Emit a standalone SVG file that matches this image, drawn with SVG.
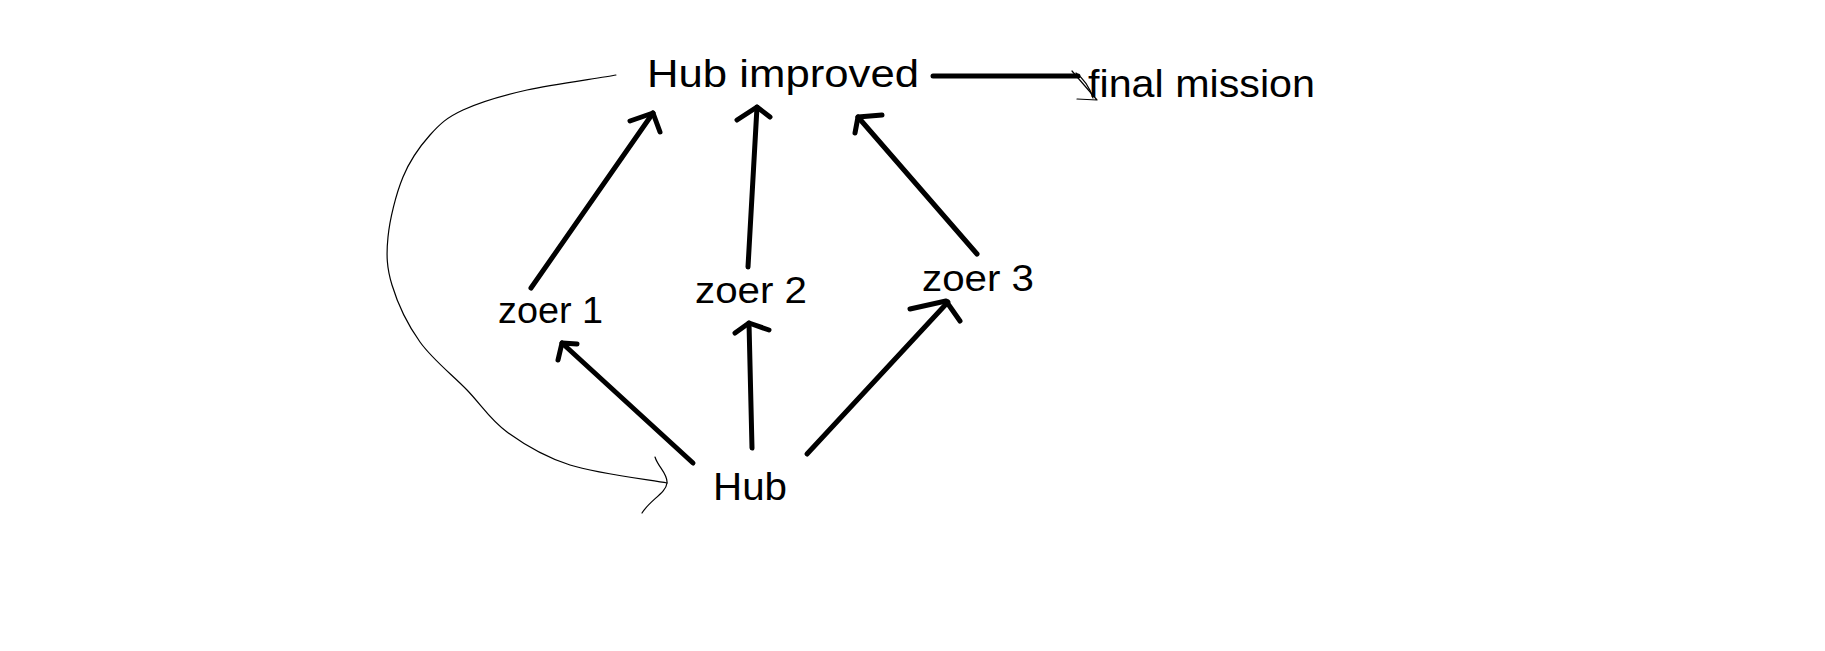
<svg xmlns="http://www.w3.org/2000/svg" width="1825" height="651" viewBox="0 0 1825 651">
<style>
.lbl{font-family:"Liberation Sans",Arial,sans-serif;fill:#000;}
.thick{fill:none;stroke:#000;stroke-width:5;stroke-linecap:round;stroke-linejoin:round;}
.thin{fill:none;stroke:#000;stroke-width:1.2;stroke-linecap:round;stroke-linejoin:round;}
</style>
<rect x="0" y="0" width="1825" height="651" fill="#fff"/>
<g id="connectors">
  <!-- Hub -> zoer 1 -->
  <path class="thick" d="M693,463 L562,343"/>
  <path class="thick" d="M558,360 L562,343 L577,344"/>
  <!-- Hub -> zoer 2 -->
  <path class="thick" d="M752,448 L749,323"/>
  <path class="thick" d="M735,333 L749,323 L769,330"/>
  <!-- Hub -> zoer 3 -->
  <path class="thick" d="M807,454 L948,302"/>
  <path class="thick" d="M910,309 L946,301 L960,321"/>
  <!-- zoer 1 -> Hub improved -->
  <path class="thick" d="M531,288 L653,113"/>
  <path class="thick" d="M630,121 L653,113 L660,132"/>
  <!-- zoer 2 -> Hub improved -->
  <path class="thick" d="M748,267 L757,107"/>
  <path class="thick" d="M737,120 L757,107 L770,117"/>
  <!-- zoer 3 -> Hub improved -->
  <path class="thick" d="M977,254 L858,117"/>
  <path class="thick" d="M855,133 L858,117 L882,115"/>
  <!-- Hub improved -> final mission -->
  <path class="thick" d="M933,76 L1078,76"/>
  <path class="thin" d="M1072,71 L1097,100 L1077,99"/>
  <path class="thin" d="M1076,73 Q1088,82 1093,98"/>
  <!-- Hub improved -> Hub (hand-drawn loop) -->
  <path class="thin" d="M616,75 C601,78 552.5,84.2 527,90 C501.5,95.8 479.2,102.5 463,110 C446.8,117.5 440,123.8 430,135 C420,146.2 410,160 403,177 C396,194 389.8,219 388,237 C386.2,255 386.7,267.5 392,285 C397.3,302.5 407.5,324.5 420,342 C432.5,359.5 452.5,375 467,390 C481.5,405 489.8,419.5 507,432 C524.2,444.5 543.3,456.5 570,465 C596.7,473.5 650.8,480 667,483"/>
  <path class="thin" d="M655,457 C658,467 668,474 667,483 C666,493 650,500 642,513"/>
</g>
<g id="node-hub-improved"><text class="lbl" x="647" y="87" font-size="39" textLength="272" lengthAdjust="spacingAndGlyphs">Hub improved</text></g>
<g id="node-final-mission"><text class="lbl" x="1088" y="97" font-size="38" textLength="227" lengthAdjust="spacingAndGlyphs">final mission</text></g>
<g id="node-zoer1"><text class="lbl" x="498" y="323" font-size="36" textLength="105" lengthAdjust="spacingAndGlyphs">zoer 1</text></g>
<g id="node-zoer2"><text class="lbl" x="695" y="303" font-size="36" textLength="112" lengthAdjust="spacingAndGlyphs">zoer 2</text></g>
<g id="node-zoer3"><text class="lbl" x="922" y="291" font-size="36" textLength="112" lengthAdjust="spacingAndGlyphs">zoer 3</text></g>
<g id="node-hub"><text class="lbl" x="713" y="500" font-size="38" textLength="74" lengthAdjust="spacingAndGlyphs">Hub</text></g>
</svg>
